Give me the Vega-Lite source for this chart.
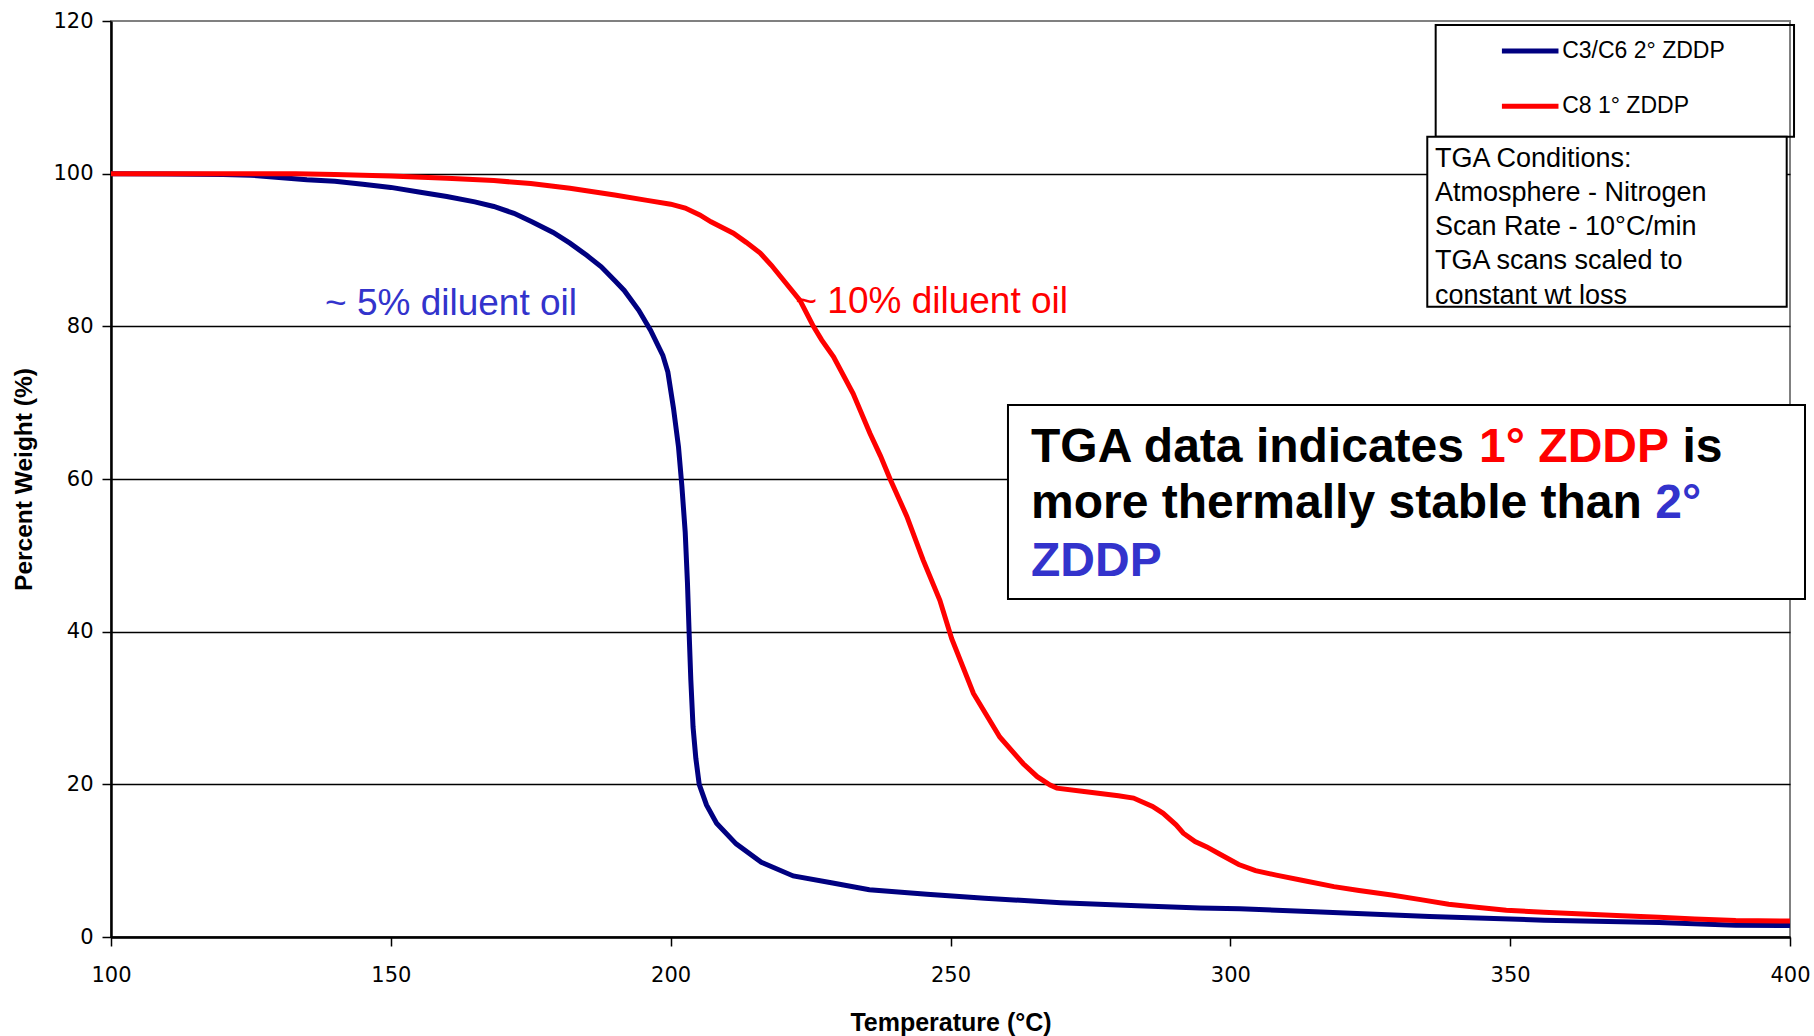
{
  "$schema": "https://vega.github.io/schema/vega-lite/v6.json",
  "width": 1679,
  "height": 916,
  "autosize": {"type": "none"},
  "padding": {"left": 111, "top": 21, "right": 24, "bottom": 99},
  "background": "white",
  "config": {
    "font": "Liberation Sans",
    "view": {"stroke": "#808080", "strokeWidth": 2},
    "axis": {
      "domainColor": "black",
      "domainWidth": 2.5,
      "tickColor": "black",
      "tickWidth": 1.5,
      "tickSize": 9,
      "labelFont": "DejaVu Sans",
      "labelFontSize": 21,
      "labelColor": "black",
      "labelFlush": false,
      "titleFont": "Liberation Sans",
      "titleFontWeight": "bold",
      "titleColor": "black"
    }
  },
  "datasets": {
    "tga": [
      {"series": "C3/C6 2° ZDDP", "T": 100, "W": 100},
      {"series": "C3/C6 2° ZDDP", "T": 110, "W": 99.95},
      {"series": "C3/C6 2° ZDDP", "T": 120, "W": 99.9},
      {"series": "C3/C6 2° ZDDP", "T": 125, "W": 99.8},
      {"series": "C3/C6 2° ZDDP", "T": 130, "W": 99.5},
      {"series": "C3/C6 2° ZDDP", "T": 135, "W": 99.2},
      {"series": "C3/C6 2° ZDDP", "T": 140, "W": 99.0},
      {"series": "C3/C6 2° ZDDP", "T": 145, "W": 98.6},
      {"series": "C3/C6 2° ZDDP", "T": 150, "W": 98.2},
      {"series": "C3/C6 2° ZDDP", "T": 155, "W": 97.6},
      {"series": "C3/C6 2° ZDDP", "T": 160, "W": 97.0},
      {"series": "C3/C6 2° ZDDP", "T": 165, "W": 96.3},
      {"series": "C3/C6 2° ZDDP", "T": 168.4, "W": 95.7},
      {"series": "C3/C6 2° ZDDP", "T": 172, "W": 94.8},
      {"series": "C3/C6 2° ZDDP", "T": 175.2, "W": 93.7},
      {"series": "C3/C6 2° ZDDP", "T": 179, "W": 92.3},
      {"series": "C3/C6 2° ZDDP", "T": 182, "W": 90.9},
      {"series": "C3/C6 2° ZDDP", "T": 185, "W": 89.3},
      {"series": "C3/C6 2° ZDDP", "T": 187.6, "W": 87.8},
      {"series": "C3/C6 2° ZDDP", "T": 190, "W": 86.0},
      {"series": "C3/C6 2° ZDDP", "T": 191.7, "W": 84.7},
      {"series": "C3/C6 2° ZDDP", "T": 194.3, "W": 82.1},
      {"series": "C3/C6 2° ZDDP", "T": 196.4, "W": 79.5},
      {"series": "C3/C6 2° ZDDP", "T": 198.6, "W": 76.2},
      {"series": "C3/C6 2° ZDDP", "T": 199.5, "W": 74.0},
      {"series": "C3/C6 2° ZDDP", "T": 200.5, "W": 69.3},
      {"series": "C3/C6 2° ZDDP", "T": 201.4, "W": 64.2},
      {"series": "C3/C6 2° ZDDP", "T": 202.0, "W": 59.1},
      {"series": "C3/C6 2° ZDDP", "T": 202.6, "W": 53.0},
      {"series": "C3/C6 2° ZDDP", "T": 203.0, "W": 46.4},
      {"series": "C3/C6 2° ZDDP", "T": 203.3, "W": 39.8},
      {"series": "C3/C6 2° ZDDP", "T": 203.6, "W": 33.7},
      {"series": "C3/C6 2° ZDDP", "T": 204.0, "W": 27.5},
      {"series": "C3/C6 2° ZDDP", "T": 204.5, "W": 23.4},
      {"series": "C3/C6 2° ZDDP", "T": 205.1, "W": 20.0},
      {"series": "C3/C6 2° ZDDP", "T": 206.4, "W": 17.3},
      {"series": "C3/C6 2° ZDDP", "T": 208.2, "W": 14.9},
      {"series": "C3/C6 2° ZDDP", "T": 211.7, "W": 12.2},
      {"series": "C3/C6 2° ZDDP", "T": 216.2, "W": 9.8},
      {"series": "C3/C6 2° ZDDP", "T": 221.9, "W": 8.0},
      {"series": "C3/C6 2° ZDDP", "T": 228.7, "W": 7.1},
      {"series": "C3/C6 2° ZDDP", "T": 235.5, "W": 6.2},
      {"series": "C3/C6 2° ZDDP", "T": 245.8, "W": 5.6},
      {"series": "C3/C6 2° ZDDP", "T": 256.1, "W": 5.07},
      {"series": "C3/C6 2° ZDDP", "T": 269.7, "W": 4.5},
      {"series": "C3/C6 2° ZDDP", "T": 283.4, "W": 4.1},
      {"series": "C3/C6 2° ZDDP", "T": 294.6, "W": 3.8},
      {"series": "C3/C6 2° ZDDP", "T": 301.7, "W": 3.7},
      {"series": "C3/C6 2° ZDDP", "T": 315.1, "W": 3.3},
      {"series": "C3/C6 2° ZDDP", "T": 335.6, "W": 2.7},
      {"series": "C3/C6 2° ZDDP", "T": 356.1, "W": 2.2},
      {"series": "C3/C6 2° ZDDP", "T": 376.6, "W": 1.9},
      {"series": "C3/C6 2° ZDDP", "T": 390.3, "W": 1.55},
      {"series": "C3/C6 2° ZDDP", "T": 400, "W": 1.5},
      {"series": "C8 1° ZDDP", "T": 100, "W": 100},
      {"series": "C8 1° ZDDP", "T": 120, "W": 100},
      {"series": "C8 1° ZDDP", "T": 133, "W": 100},
      {"series": "C8 1° ZDDP", "T": 140, "W": 99.9},
      {"series": "C8 1° ZDDP", "T": 150, "W": 99.7},
      {"series": "C8 1° ZDDP", "T": 160, "W": 99.4},
      {"series": "C8 1° ZDDP", "T": 168.4, "W": 99.1},
      {"series": "C8 1° ZDDP", "T": 175, "W": 98.7},
      {"series": "C8 1° ZDDP", "T": 182, "W": 98.1},
      {"series": "C8 1° ZDDP", "T": 190, "W": 97.2},
      {"series": "C8 1° ZDDP", "T": 195.8, "W": 96.5},
      {"series": "C8 1° ZDDP", "T": 200, "W": 96.0},
      {"series": "C8 1° ZDDP", "T": 202.6, "W": 95.5},
      {"series": "C8 1° ZDDP", "T": 205.2, "W": 94.6},
      {"series": "C8 1° ZDDP", "T": 207.2, "W": 93.7},
      {"series": "C8 1° ZDDP", "T": 211.2, "W": 92.2},
      {"series": "C8 1° ZDDP", "T": 213.5, "W": 91.0},
      {"series": "C8 1° ZDDP", "T": 216, "W": 89.6},
      {"series": "C8 1° ZDDP", "T": 218, "W": 88.0},
      {"series": "C8 1° ZDDP", "T": 220.1, "W": 86.1},
      {"series": "C8 1° ZDDP", "T": 223.1, "W": 83.4},
      {"series": "C8 1° ZDDP", "T": 225.5, "W": 80.0},
      {"series": "C8 1° ZDDP", "T": 227, "W": 78.2},
      {"series": "C8 1° ZDDP", "T": 229.1, "W": 76.0},
      {"series": "C8 1° ZDDP", "T": 232.6, "W": 71.2},
      {"series": "C8 1° ZDDP", "T": 235.6, "W": 66.0},
      {"series": "C8 1° ZDDP", "T": 237.5, "W": 63.0},
      {"series": "C8 1° ZDDP", "T": 239.2, "W": 60.0},
      {"series": "C8 1° ZDDP", "T": 242.2, "W": 55.1},
      {"series": "C8 1° ZDDP", "T": 245.1, "W": 49.4},
      {"series": "C8 1° ZDDP", "T": 248.1, "W": 44.1},
      {"series": "C8 1° ZDDP", "T": 250.2, "W": 39.1},
      {"series": "C8 1° ZDDP", "T": 254.1, "W": 31.9},
      {"series": "C8 1° ZDDP", "T": 258.8, "W": 26.2},
      {"series": "C8 1° ZDDP", "T": 263, "W": 22.7},
      {"series": "C8 1° ZDDP", "T": 265.5, "W": 21.0},
      {"series": "C8 1° ZDDP", "T": 267.8, "W": 19.9},
      {"series": "C8 1° ZDDP", "T": 269, "W": 19.5},
      {"series": "C8 1° ZDDP", "T": 273.5, "W": 19.1},
      {"series": "C8 1° ZDDP", "T": 280, "W": 18.5},
      {"series": "C8 1° ZDDP", "T": 282.7, "W": 18.2},
      {"series": "C8 1° ZDDP", "T": 286.1, "W": 17.1},
      {"series": "C8 1° ZDDP", "T": 288, "W": 16.2},
      {"series": "C8 1° ZDDP", "T": 290.3, "W": 14.7},
      {"series": "C8 1° ZDDP", "T": 291.6, "W": 13.6},
      {"series": "C8 1° ZDDP", "T": 293.7, "W": 12.5},
      {"series": "C8 1° ZDDP", "T": 295.8, "W": 11.8},
      {"series": "C8 1° ZDDP", "T": 298, "W": 10.9},
      {"series": "C8 1° ZDDP", "T": 301.5, "W": 9.5},
      {"series": "C8 1° ZDDP", "T": 304.5, "W": 8.7},
      {"series": "C8 1° ZDDP", "T": 308.2, "W": 8.1},
      {"series": "C8 1° ZDDP", "T": 313, "W": 7.4},
      {"series": "C8 1° ZDDP", "T": 318.5, "W": 6.6},
      {"series": "C8 1° ZDDP", "T": 323, "W": 6.1},
      {"series": "C8 1° ZDDP", "T": 328.8, "W": 5.5},
      {"series": "C8 1° ZDDP", "T": 334, "W": 4.9},
      {"series": "C8 1° ZDDP", "T": 339, "W": 4.3},
      {"series": "C8 1° ZDDP", "T": 344, "W": 3.9},
      {"series": "C8 1° ZDDP", "T": 349.3, "W": 3.5},
      {"series": "C8 1° ZDDP", "T": 356, "W": 3.25},
      {"series": "C8 1° ZDDP", "T": 363, "W": 3.0},
      {"series": "C8 1° ZDDP", "T": 370, "W": 2.8},
      {"series": "C8 1° ZDDP", "T": 376.6, "W": 2.6},
      {"series": "C8 1° ZDDP", "T": 383, "W": 2.35},
      {"series": "C8 1° ZDDP", "T": 390.3, "W": 2.15},
      {"series": "C8 1° ZDDP", "T": 400, "W": 2.1}
    ]
  },
  "encoding": {
    "x": {
      "field": "T",
      "type": "quantitative",
      "scale": {"domain": [100, 400], "nice": false, "zero": false},
      "axis": {
        "values": [100, 150, 200, 250, 300, 350, 400],
        "title": "Temperature (°C)",
        "grid": false,
        "titleFontSize": 25,
        "titleBaseline": "alphabetic",
        "titleY": 93.5,
        "labelPadding": 18
      }
    },
    "y": {
      "field": "W",
      "type": "quantitative",
      "scale": {"domain": [0, 120], "nice": false, "zero": true},
      "axis": {
        "values": [0, 20, 40, 60, 80, 100, 120],
        "title": "Percent Weight (%)",
        "grid": true,
        "gridColor": {"condition": {"test": "datum.value === 120", "value": "transparent"}, "value": "black"},
        "gridWidth": 1.5,
        "titleFontSize": 24.5,
        "titleAngle": -90,
        "titleX": -79.5,
        "titleY": 458,
        "titleBaseline": "alphabetic",
        "labelPadding": 9
      }
    }
  },
  "layer": [
    {
      "data": {"values": [{"label": "~ 10% diluent oil", "T": 222.3, "W": 81.79}]},
      "mark": {"type": "text", "align": "left", "baseline": "alphabetic", "fontSize": 37, "color": "#FF0000"},
      "encoding": {"text": {"field": "label"}}
    },
    {
      "data": {"values": [{"label": "~ 5% diluent oil", "T": 138.24, "W": 81.48}]},
      "mark": {"type": "text", "align": "left", "baseline": "alphabetic", "fontSize": 37, "color": "#3333CC"},
      "encoding": {"text": {"field": "label"}}
    },
    {
      "data": {"name": "tga"},
      "mark": {"type": "line", "strokeWidth": 5},
      "encoding": {
        "color": {
          "field": "series",
          "type": "nominal",
          "scale": {"domain": ["C3/C6 2° ZDDP", "C8 1° ZDDP"], "range": ["#000080", "#FF0000"]},
          "legend": {
            "orient": "none",
            "legendX": 1388.2,
            "legendY": -1,
            "title": null,
            "symbolType": "stroke",
            "symbolSize": 3200,
            "symbolStrokeWidth": 5,
            "labelFont": "Liberation Sans",
            "labelFontSize": 23,
            "labelColor": "black",
            "labelOffset": 1,
            "labelLimit": 400,
            "rowPadding": 12.2,
            "padding": 0,
            "symbolOffset": 0
          }
        }
      }
    },
    {
      "data": {"values": [{"box": "legend", "T": 336.69, "T2": 400.72, "W": 119.48, "W2": 104.84}]},
      "mark": {"type": "rect", "fill": null, "stroke": "black", "strokeWidth": 2},
      "encoding": {"x2": {"field": "T2"}, "y2": {"field": "W2"}}
    },
    {
      "data": {"values": [
        {"box": "conditions", "T": 335.19, "T2": 399.41, "W": 104.84, "W2": 82.57},
        {"box": "conclusion", "T": 260.27, "T2": 402.68, "W": 69.69, "W2": 44.28}
      ]},
      "mark": {"type": "rect", "fill": "white", "stroke": "black", "strokeWidth": 2},
      "encoding": {"x2": {"field": "T2"}, "y2": {"field": "W2"}}
    },
    {
      "data": {"values": [{"label": "TGA Conditions:\nAtmosphere - Nitrogen\nScan Rate - 10°C/min\nTGA scans scaled to\nconstant wt loss", "T": 336.57, "W": 100.91}]},
      "mark": {"type": "text", "align": "left", "baseline": "alphabetic", "fontSize": 27, "lineBreak": "\n", "lineHeight": 34.2, "color": "black"},
      "encoding": {"text": {"field": "label"}}
    },
    {
      "data": {"values": [
        {"label": "TGA data indicates", "T": 264.38, "W": 62.27},
        {"label": "is", "T": 380.78, "W": 62.27},
        {"label": "more thermally stable than", "T": 264.38, "W": 54.89}
      ]},
      "mark": {"type": "text", "align": "left", "baseline": "alphabetic", "fontSize": 48, "fontWeight": "bold", "color": "black"},
      "encoding": {"text": {"field": "label"}}
    },
    {
      "data": {"values": [{"label": "1° ZDDP", "T": 344.45, "W": 62.27}]},
      "mark": {"type": "text", "align": "left", "baseline": "alphabetic", "fontSize": 48, "fontWeight": "bold", "color": "#FF0000"},
      "encoding": {"text": {"field": "label"}}
    },
    {
      "data": {"values": [
        {"label": "2°", "T": 375.92, "W": 54.89},
        {"label": "ZDDP", "T": 264.38, "W": 47.33}
      ]},
      "mark": {"type": "text", "align": "left", "baseline": "alphabetic", "fontSize": 48, "fontWeight": "bold", "color": "#3333CC"},
      "encoding": {"text": {"field": "label"}}
    }
  ]
}
